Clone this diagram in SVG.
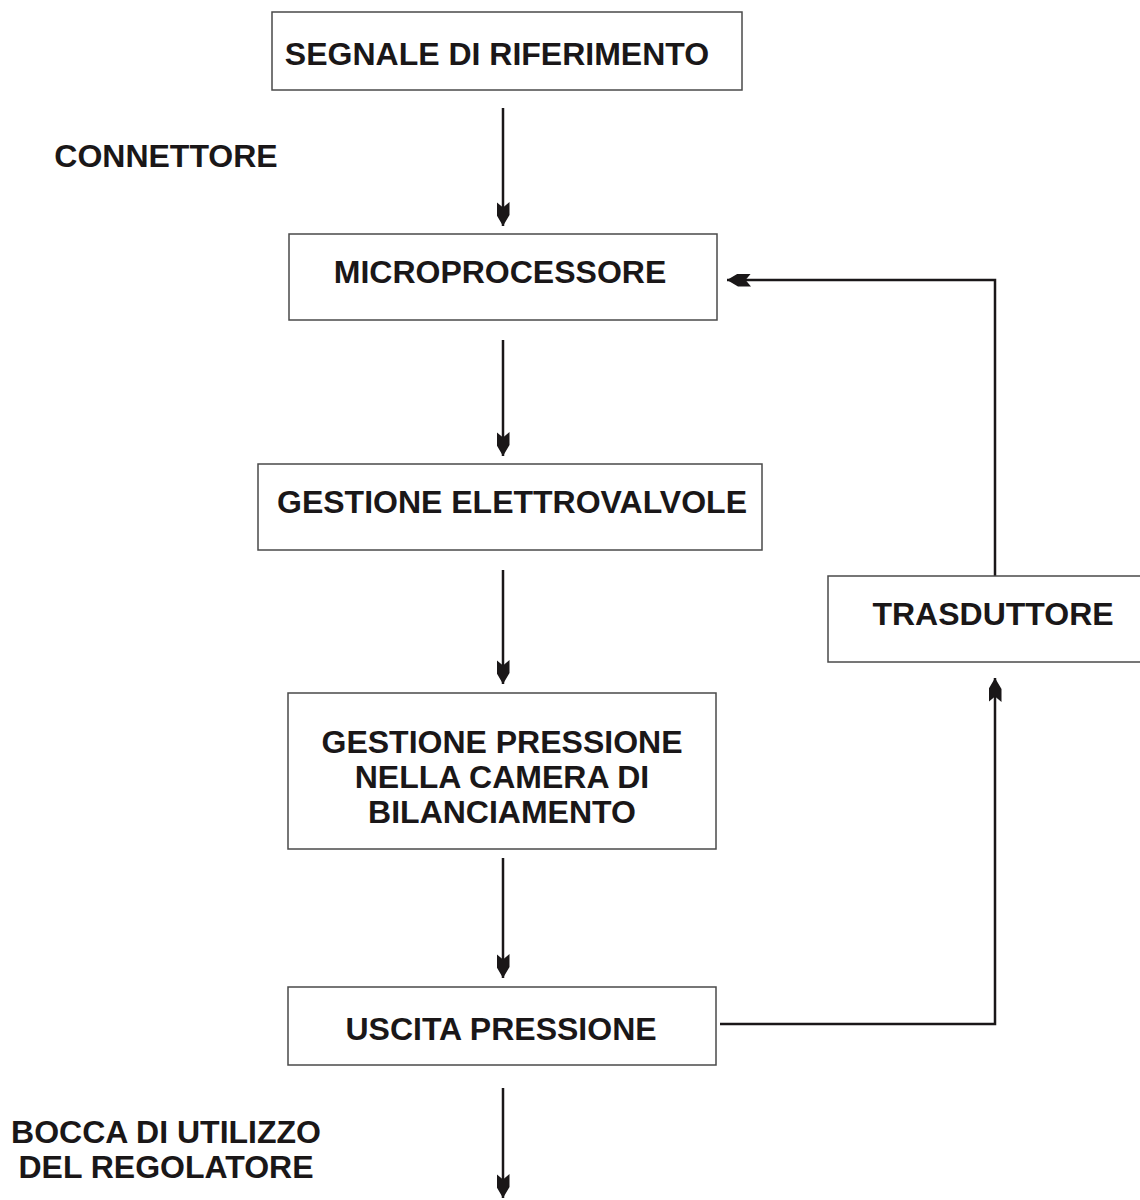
<svg xmlns="http://www.w3.org/2000/svg" width="1140" height="1200" viewBox="0 0 1140 1200">
<style>
.box{fill:#fff;stroke:#4a4a4a;stroke-width:1.5}
.t{font-family:"Liberation Sans",Arial,sans-serif;font-weight:bold;font-size:32px;fill:#1a1718;text-anchor:middle}
.c{fill:none;stroke:#1a1718;stroke-width:2.5}
</style>
<defs>
<marker id="ah" viewBox="0 0 24 13" refX="24" refY="6.5" markerWidth="24" markerHeight="13" markerUnits="userSpaceOnUse" orient="auto">
<path d="M24,6.5 L13,0 L0,0 L5.5,6.5 L0,13 L13,13 Z" fill="#1a1718"/>
</marker>
</defs>
<rect width="1140" height="1200" fill="#fff"/>
<g id="connectors">
<line class="c" x1="503" y1="108" x2="503" y2="226" marker-end="url(#ah)"/>
<line class="c" x1="503" y1="340" x2="503" y2="456" marker-end="url(#ah)"/>
<line class="c" x1="503" y1="570" x2="503" y2="684" marker-end="url(#ah)"/>
<line class="c" x1="503" y1="858" x2="503" y2="978" marker-end="url(#ah)"/>
<line class="c" x1="503" y1="1088" x2="503" y2="1198" marker-end="url(#ah)"/>
<polyline class="c" points="720,1024 995,1024 995,678" marker-end="url(#ah)"/>
<polyline class="c" points="995,576 995,280 727,280" marker-end="url(#ah)"/>
</g>
<g id="segnale">
<rect class="box" x="272" y="12" width="470" height="78"/>
<text class="t" x="497" y="65">SEGNALE DI RIFERIMENTO</text>
</g>
<g id="connettore">
<text class="t" x="166" y="167">CONNETTORE</text>
</g>
<g id="microprocessore">
<rect class="box" x="289" y="234" width="428" height="86"/>
<text class="t" x="500" y="283">MICROPROCESSORE</text>
</g>
<g id="elettrovalvole">
<rect class="box" x="258" y="464" width="504" height="86"/>
<text class="t" x="512" y="513">GESTIONE ELETTROVALVOLE</text>
</g>
<g id="pressione">
<rect class="box" x="288" y="693" width="428" height="156"/>
<text class="t" x="502" y="753">GESTIONE PRESSIONE</text>
<text class="t" x="502" y="788">NELLA CAMERA DI</text>
<text class="t" x="502" y="823">BILANCIAMENTO</text>
</g>
<g id="trasduttore">
<rect class="box" x="828" y="576" width="320" height="86"/>
<text class="t" x="993" y="625">TRASDUTTORE</text>
</g>
<g id="uscita">
<rect class="box" x="288" y="987" width="428" height="78"/>
<text class="t" x="501" y="1040">USCITA PRESSIONE</text>
</g>
<g id="bocca">
<text class="t" x="166" y="1143">BOCCA DI UTILIZZO</text>
<text class="t" x="166" y="1178">DEL REGOLATORE</text>
</g>
</svg>
